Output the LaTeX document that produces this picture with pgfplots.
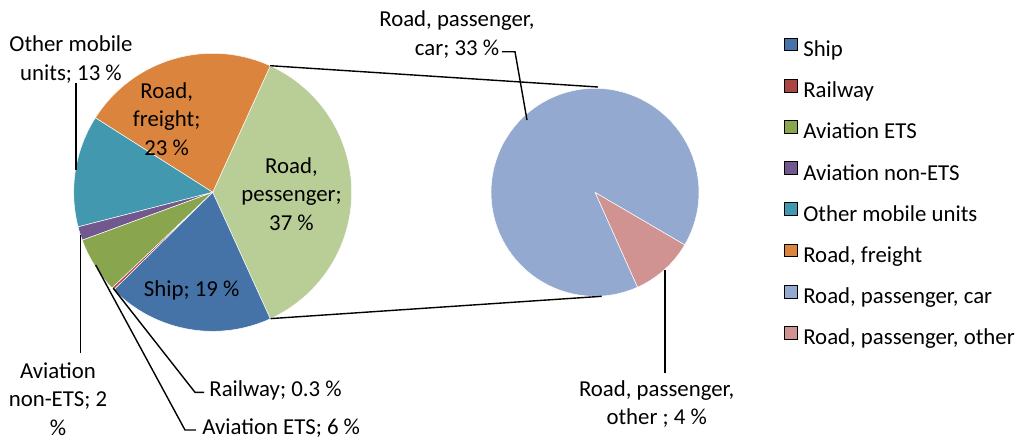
\documentclass[border=0pt]{standalone}
\usepackage{fontspec}
\setmainfont{Carlito}
\usepackage{pgfplots}
\pgfplotsset{compat=1.18}

\definecolor{cShip}{HTML}{4572A7}
\definecolor{cRail}{HTML}{AA4643}
\definecolor{cETS}{HTML}{89A54E}
\definecolor{cNon}{HTML}{71588F}
\definecolor{cOther}{HTML}{4198AF}
\definecolor{cFreight}{HTML}{DB843D}
\definecolor{cPass}{HTML}{B9CD96}
\definecolor{cCar}{HTML}{93A9CF}
\definecolor{cPOther}{HTML}{D19392}

% data (per cent of total)
\def\vShip{19.4}
\def\vRail{0.3}
\def\vETS{6.5}
\def\vNon{1.6}
\def\vOther{13.0}
\def\vFreight{22.8}
\def\vCar{32.8}
\def\vPOther{3.6}

\pgfmathsetmacro{\vPass}{\vCar+\vPOther}
\pgfmathsetmacro{\tot}{\vShip+\vRail+\vETS+\vNon+\vOther+\vFreight+\vPass}
\pgfmathsetmacro{\k}{360/\tot}
\pgfmathsetmacro{\aA}{-\vPass*\k/2}
\pgfmathsetmacro{\aB}{\vPass*\k/2}
\pgfmathsetmacro{\aC}{\aB+\vFreight*\k}
\pgfmathsetmacro{\aD}{\aC+\vOther*\k}
\pgfmathsetmacro{\aE}{\aD+\vNon*\k}
\pgfmathsetmacro{\aF}{\aE+\vETS*\k}
\pgfmathsetmacro{\aG}{\aF+\vRail*\k}
\pgfmathsetmacro{\aH}{\aG+\vShip*\k}
% second pie
\pgfmathsetmacro{\bA}{-65.9}
\pgfmathsetmacro{\bB}{\bA+\vPOther/\vPass*360}
\pgfmathsetmacro{\bC}{\bB+\vCar/\vPass*360}

\newcommand{\slice}[6]{%
  \addplot[draw=white, line width=0.5pt, fill=#6, domain=#4:#5, samples=90, forget plot]
    ({#1+#3*cos(x)},{#2-#3*sin(x)}) -- (axis cs:#1,#2) -- cycle;}

\newcommand{\lf}{\fontsize{22.8}{28.5}\selectfont}

\begin{document}
\begin{tikzpicture}
\useasboundingbox (0,0) rectangle (1022pt,439pt);
\begin{axis}[
  at={(0,0)}, anchor=south west,
  width=1022pt, height=439pt, scale only axis,
  xmin=0, xmax=1022, ymin=0, ymax=439, y dir=reverse,
  axis lines=none, clip=false,
  legend style={at={(axis cs:784,37.4)}, anchor=north west, draw=none, fill=none,
    inner sep=0pt, row sep=17.3pt, column sep=6pt,
    nodes={inner sep=0pt, text height=16pt, text depth=5pt, font=\lf}},
  legend cell align=left,
  legend image code/.code={\fill[#1] (0pt,0.5pt) rectangle (12.7pt,13.2pt);},
]
% left pie
\slice{212.7}{192.3}{139}{\aA}{\aB}{cPass}
\slice{212.7}{192.3}{139}{\aB}{\aC}{cFreight}
\slice{212.7}{192.3}{139}{\aC}{\aD}{cOther}
\slice{212.7}{192.3}{139}{\aD}{\aE}{cNon}
\slice{212.7}{192.3}{139}{\aE}{\aF}{cETS}
\slice{212.7}{192.3}{139}{\aF}{\aG}{cRail}
\slice{212.7}{192.3}{139}{\aG}{\aH}{cShip}
% right pie
\slice{595}{192.3}{104}{\bA}{\bB}{cPOther}
\slice{595}{192.3}{104}{\bB}{\bC}{cCar}

% connector lines
\addplot[black, line width=1.4pt, forget plot] coordinates {(270.1,65.7) (598,87)};
\addplot[black, line width=1.4pt, forget plot] coordinates {(270.7,318.6) (601.7,296.3)};

% leader lines
\addplot[black, line width=1.4pt, forget plot] coordinates {(76,83) (76,170)};
\addplot[black, line width=1.4pt, forget plot] coordinates {(80.7,353) (80.7,235)};
\addplot[black, line width=1.4pt, forget plot] coordinates {(204,392.3) (195,392.3) (113.3,288.3)};
\addplot[black, line width=1.4pt, forget plot] coordinates {(196,430) (185,430) (95.7,265)};
\addplot[black, line width=1.4pt, forget plot] coordinates {(502,51.7) (515,51.7) (527,120)};
\addplot[black, line width=1.4pt, forget plot] coordinates {(665,270) (665,372.7)};

% labels
\node[align=center, font=\lf] at (axis cs:71,59.5) {Other mobile\\units; 13 \%};
\node[align=center, font=\lf] at (axis cs:166.7,119) {Road,\\freight;\\23 \%};
\node[align=center, font=\lf] at (axis cs:291.5,194) {Road,\\pessenger;\\37 \%};
\node[align=center, font=\lf] at (axis cs:191.7,290) {Ship; 19 \%};
\node[align=center, font=\lf] at (axis cs:58,399) {Aviation\\non-ETS; 2\\\%};
\node[align=center, font=\lf] at (axis cs:275.5,390.5) {Railway; 0.3 \%};
\node[align=center, font=\lf] at (axis cs:281.2,428.5) {Aviation ETS; 6 \%};
\node[align=center, font=\lf] at (axis cs:457,34.5) {Road, passenger,\\car; 33 \%};
\node[align=center, font=\lf] at (axis cs:656.7,404) {Road, passenger,\\other ; 4 \%};

% legend
\addlegendimage{fill=cShip}\addlegendentry{Ship}
\addlegendimage{fill=cRail}\addlegendentry{Railway}
\addlegendimage{fill=cETS}\addlegendentry{Aviation ETS}
\addlegendimage{fill=cNon}\addlegendentry{Aviation non-ETS}
\addlegendimage{fill=cOther}\addlegendentry{Other mobile units}
\addlegendimage{fill=cFreight}\addlegendentry{Road, freight}
\addlegendimage{fill=cCar}\addlegendentry{Road, passenger, car}
\addlegendimage{fill=cPOther}\addlegendentry{Road, passenger, other}
\end{axis}
\end{tikzpicture}
\end{document}
